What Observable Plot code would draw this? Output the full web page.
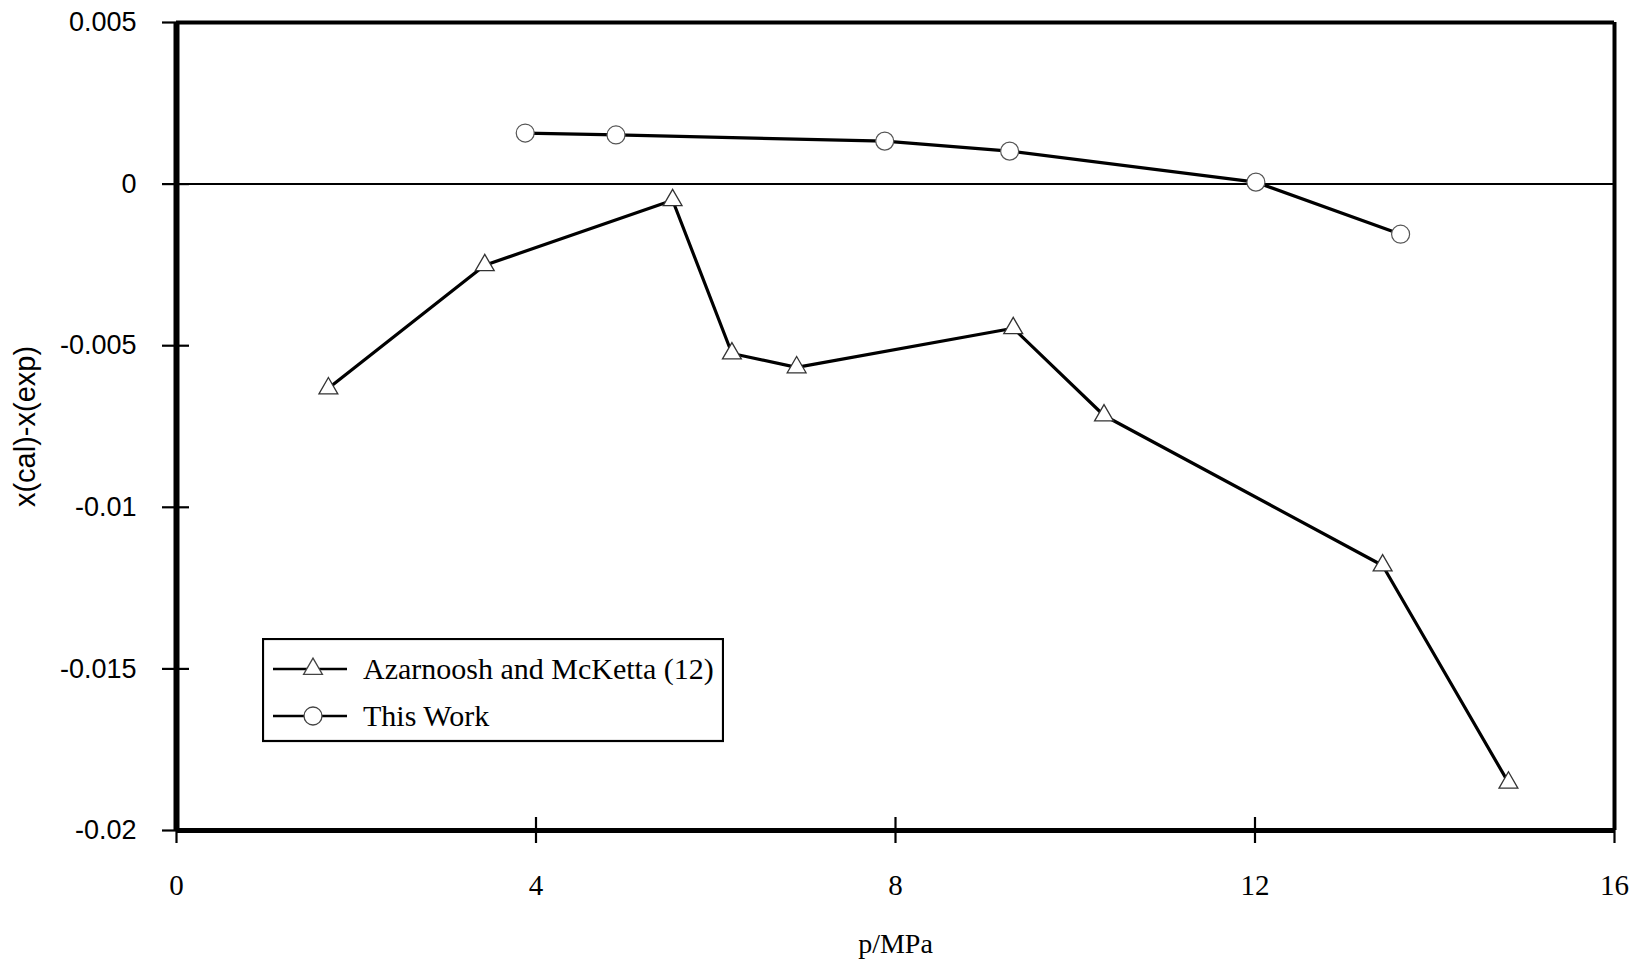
<!DOCTYPE html>
<html><head><meta charset="utf-8">
<script src="https://cdn.jsdelivr.net/npm/d3@7"></script>
<script src="https://cdn.jsdelivr.net/npm/@observablehq/plot@0.6"></script>
<style>
html,body{margin:0;padding:0;background:#fff;}
#wrap{position:relative;width:1637px;height:962px;overflow:hidden;}
#legend{position:absolute;left:262px;top:638px;}
</style></head><body>
<div id="wrap"></div>
<script>
// Azarnoosh and McKetta (12)
const azPressure  = [1.69, 3.43, 5.52, 6.18, 6.90, 9.31, 10.32, 13.42, 14.82];
const azDeviation = [-0.00632, -0.00251, -0.00050, -0.00524, -0.00567, -0.00446, -0.00716, -0.01180, -0.01852];
// This Work
const twPressure  = [3.88, 4.89, 7.88, 9.27, 12.01, 13.62];
const twDeviation = [0.00158, 0.00152, 0.00133, 0.00102, 0.00006, -0.00155];

const xTicks = [0, 4, 8, 12, 16];
const yTicks = [0.005, 0, -0.005, -0.01, -0.015, -0.02];
const seriesNames = ["Azarnoosh and McKetta (12)", "This Work"];
const seriesSymbols = ["triangle", "circle"];
const xLabel = "p/MPa";
const yLabel = "x(cal)-x(exp)";

const az = azPressure.map((p, i) => ({p, d: azDeviation[i]}));
const tw = twPressure.map((p, i) => ({p, d: twDeviation[i]}));

const chart = Plot.plot({
  width: 1637, height: 962,
  marginLeft: 176, marginRight: 23, marginTop: 22, marginBottom: 132,
  x: {domain: [0, 16]},
  y: {domain: [-0.02, 0.005]},
  style: {background: "#fff", color: "#000"},
  marks: [
    Plot.ruleY([0], {stroke: "#000", strokeWidth: 2}),
    Plot.axisY({ticks: yTicks, tickSize: 27, dx: 13, fill: "none", label: null, stroke: "#000", strokeWidth: 2.2}),
    Plot.axisX({ticks: xTicks, tickSize: 26, dy: -13, fill: "none", label: null, stroke: "#000", strokeWidth: 2.2}),
    Plot.axisY({ticks: yTicks, tickSize: 0, tickPadding: 40, tickFormat: d => String(d), label: null,
      fontFamily: "Liberation Sans", fontSize: 27}),
    Plot.axisY({ticks: [], label: yLabel, labelAnchor: "center", labelArrow: "none", labelOffset: 162,
      fontFamily: "Liberation Sans", fontSize: 29}),
    Plot.axisX({ticks: xTicks, tickSize: 0, tickPadding: 44, tickFormat: d => String(d), label: null,
      fontFamily: "Liberation Serif", fontSize: 29}),
    Plot.axisX({ticks: [], label: xLabel, labelAnchor: "center", labelArrow: "none", labelOffset: 122,
      fontFamily: "Liberation Serif", fontSize: 28}),
    Plot.ruleX([0], {stroke: "#000", strokeWidth: 6}),
    Plot.ruleX([16], {stroke: "#000", strokeWidth: 4}),
    Plot.ruleY([-0.02], {stroke: "#000", strokeWidth: 5}),
    Plot.ruleY([0.005], {stroke: "#000", strokeWidth: 4}),
    Plot.line(az, {x: "p", y: "d", stroke: "#000", strokeWidth: 3.2}),
    Plot.line(tw, {x: "p", y: "d", stroke: "#000", strokeWidth: 3.2}),
    Plot.dot(az, {x: "p", y: "d", symbol: "triangle", r: 7, fill: "#fff", stroke: "#333", strokeWidth: 1.3}),
    Plot.dot(tw, {x: "p", y: "d", symbol: "circle", r: 9, fill: "#fff", stroke: "#555", strokeWidth: 1.2})
  ]
});
const wrap = document.getElementById("wrap");
wrap.appendChild(chart);

// Legend inside the plot area
const ns = "http://www.w3.org/2000/svg";
const lg = document.createElementNS(ns, "svg");
lg.setAttribute("id", "legend");
lg.setAttribute("width", 462);
lg.setAttribute("height", 105);
const box = document.createElementNS(ns, "rect");
box.setAttribute("x", 1); box.setAttribute("y", 1);
box.setAttribute("width", 460); box.setAttribute("height", 102);
box.setAttribute("fill", "#fff"); box.setAttribute("stroke", "#000"); box.setAttribute("stroke-width", 2.2);
lg.appendChild(box);
const rowY = [31, 78];
seriesNames.forEach((name, i) => {
  const y = rowY[i];
  const ln = document.createElementNS(ns, "line");
  ln.setAttribute("x1", 11); ln.setAttribute("x2", 85);
  ln.setAttribute("y1", y); ln.setAttribute("y2", y);
  ln.setAttribute("stroke", "#000"); ln.setAttribute("stroke-width", 2.5);
  lg.appendChild(ln);
  const sym = document.createElementNS(ns, "path");
  const s = seriesSymbols[i] === "triangle" ? d3.symbol(d3.symbolTriangle, Math.PI * 49)() : d3.symbol(d3.symbolCircle, Math.PI * 81)();
  sym.setAttribute("d", s);
  sym.setAttribute("transform", `translate(51,${y})`);
  sym.setAttribute("fill", "#fff"); sym.setAttribute("stroke", "#444"); sym.setAttribute("stroke-width", 1.3);
  lg.appendChild(sym);
  const t = document.createElementNS(ns, "text");
  t.setAttribute("x", 101); t.setAttribute("y", y + 10);
  t.setAttribute("font-family", "Liberation Serif"); t.setAttribute("font-size", 30);
  t.setAttribute("fill", "#000");
  t.textContent = name;
  lg.appendChild(t);
});
wrap.appendChild(lg);
</script>
</body></html>
